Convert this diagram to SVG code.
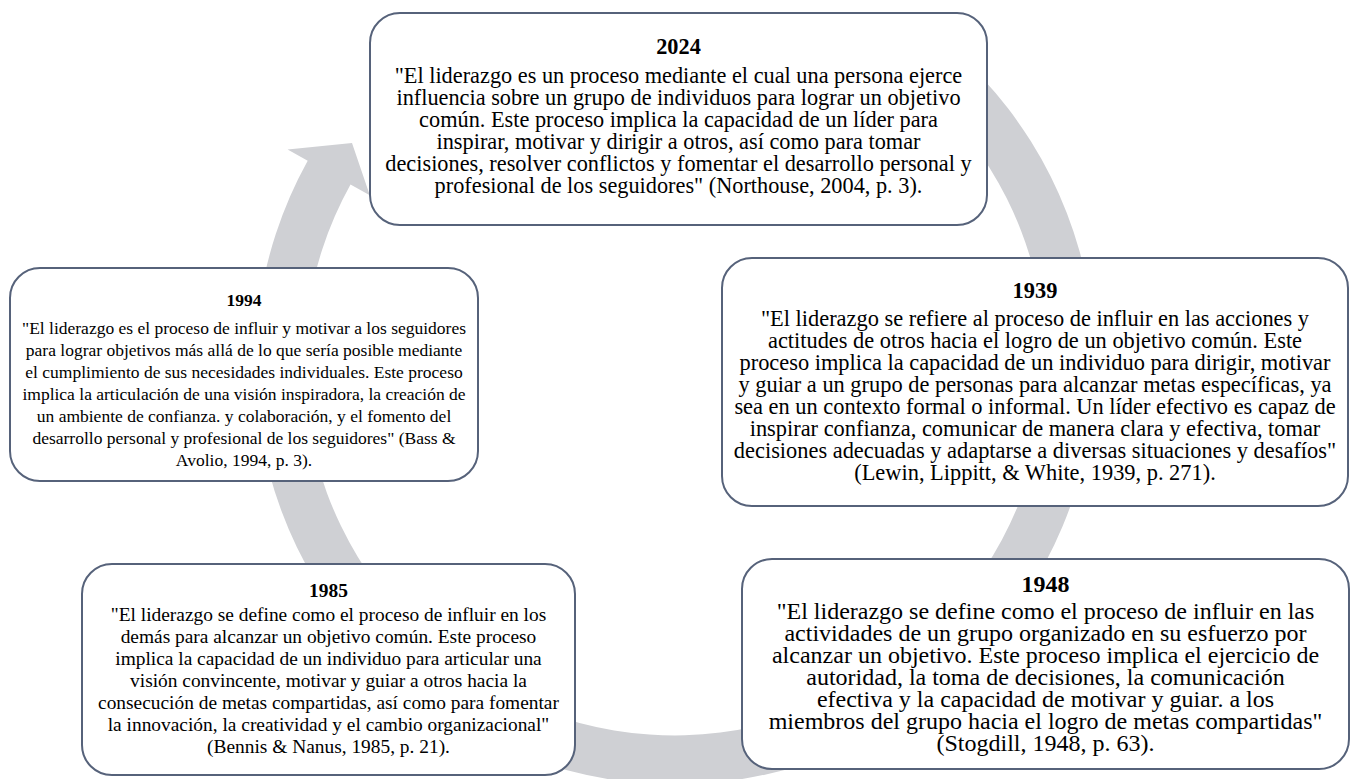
<svg xmlns="http://www.w3.org/2000/svg" width="1358" height="779" viewBox="0 0 1358 779">
<style>
.box{fill:#ffffff;stroke:#56627a;stroke-width:2}
.t{font-family:"Liberation Serif","Times New Roman",serif;fill:#000;text-anchor:middle}
.h{font-weight:bold}
.band{fill:#cfd0d4}
</style>
<rect width="1358" height="779" fill="#ffffff"/>
<g id="connectors">
<path class="band" d="M 921.9 24.6 A 420 420 0 1 1 307.7 160.8 L 287.6 149.6 L 352 143 L 369.8 195.2 L 350.5 184.5 A 371 371 0 1 0 893.1 64.3 Z"/>
</g>
<g id="node-2024">
<rect class="box" x="370" y="13" width="617" height="212" rx="30"/>
<text class="t" font-size="22.3" x="678.5"><tspan class="h" x="678.5" y="54">2024</tspan><tspan x="678.5" y="83">"El liderazgo es un proceso mediante el cual una persona ejerce</tspan><tspan x="678.5" y="105">influencia sobre un grupo de individuos para lograr un objetivo</tspan><tspan x="678.5" y="127">común. Este proceso implica la capacidad de un líder para</tspan><tspan x="678.5" y="149">inspirar, motivar y dirigir a otros, así como para tomar</tspan><tspan x="678.5" y="171">decisiones, resolver conflictos y fomentar el desarrollo personal y</tspan><tspan x="678.5" y="193">profesional de los seguidores" (Northouse, 2004, p. 3).</tspan></text>
</g>
<g id="node-1994">
<rect class="box" x="10" y="268" width="468" height="213" rx="30"/>
<text class="t" font-size="17.5" x="244"><tspan class="h" x="244" y="306">1994</tspan><tspan x="244" y="334">"El liderazgo es el proceso de influir y motivar a los seguidores</tspan><tspan x="244" y="356">para lograr objetivos más allá de lo que sería posible mediante</tspan><tspan x="244" y="378">el cumplimiento de sus necesidades individuales. Este proceso</tspan><tspan x="244" y="400">implica la articulación de una visión inspiradora, la creación de</tspan><tspan x="244" y="422">un ambiente de confianza. y colaboración, y el fomento del</tspan><tspan x="244" y="444">desarrollo personal y profesional de los seguidores" (Bass &amp;</tspan><tspan x="244" y="466">Avolio, 1994, p. 3).</tspan></text>
</g>
<g id="node-1939">
<rect class="box" x="722" y="258" width="626" height="248" rx="30"/>
<text class="t" font-size="22.4" x="1035"><tspan class="h" x="1035" y="298">1939</tspan><tspan x="1035" y="326">"El liderazgo se refiere al proceso de influir en las acciones y</tspan><tspan x="1035" y="348">actitudes de otros hacia el logro de un objetivo común. Este</tspan><tspan x="1035" y="370">proceso implica la capacidad de un individuo para dirigir, motivar</tspan><tspan x="1035" y="392">y guiar a un grupo de personas para alcanzar metas específicas, ya</tspan><tspan x="1035" y="414">sea en un contexto formal o informal. Un líder efectivo es capaz de</tspan><tspan x="1035" y="436">inspirar confianza, comunicar de manera clara y efectiva, tomar</tspan><tspan x="1035" y="458">decisiones adecuadas y adaptarse a diversas situaciones y desafíos"</tspan><tspan x="1035" y="480">(Lewin, Lippitt, &amp; White, 1939, p. 271).</tspan></text>
</g>
<g id="node-1985">
<rect class="box" x="82" y="564" width="493" height="211" rx="30"/>
<text class="t" font-size="19.4" x="328.5"><tspan class="h" x="328.5" y="597">1985</tspan><tspan x="328.5" y="621">"El liderazgo se define como el proceso de influir en los</tspan><tspan x="328.5" y="643">demás para alcanzar un objetivo común. Este proceso</tspan><tspan x="328.5" y="665">implica la capacidad de un individuo para articular una</tspan><tspan x="328.5" y="687">visión convincente, motivar y guiar a otros hacia la</tspan><tspan x="328.5" y="709">consecución de metas compartidas, así como para fomentar</tspan><tspan x="328.5" y="731">la innovación, la creatividad y el cambio organizacional"</tspan><tspan x="328.5" y="753">(Bennis &amp; Nanus, 1985, p. 21).</tspan></text>
</g>
<g id="node-1948">
<rect class="box" x="742" y="559" width="607" height="210" rx="30"/>
<text class="t" font-size="24" x="1045.5"><tspan class="h" x="1045.5" y="592">1948</tspan><tspan x="1045.5" y="619">"El liderazgo se define como el proceso de influir en las</tspan><tspan x="1045.5" y="641">actividades de un grupo organizado en su esfuerzo por</tspan><tspan x="1045.5" y="663">alcanzar un objetivo. Este proceso implica el ejercicio de</tspan><tspan x="1045.5" y="685">autoridad, la toma de decisiones, la comunicación</tspan><tspan x="1045.5" y="707">efectiva y la capacidad de motivar y guiar. a los</tspan><tspan x="1045.5" y="729">miembros del grupo hacia el logro de metas compartidas"</tspan><tspan x="1045.5" y="751">(Stogdill, 1948, p. 63).</tspan></text>
</g>
</svg>
